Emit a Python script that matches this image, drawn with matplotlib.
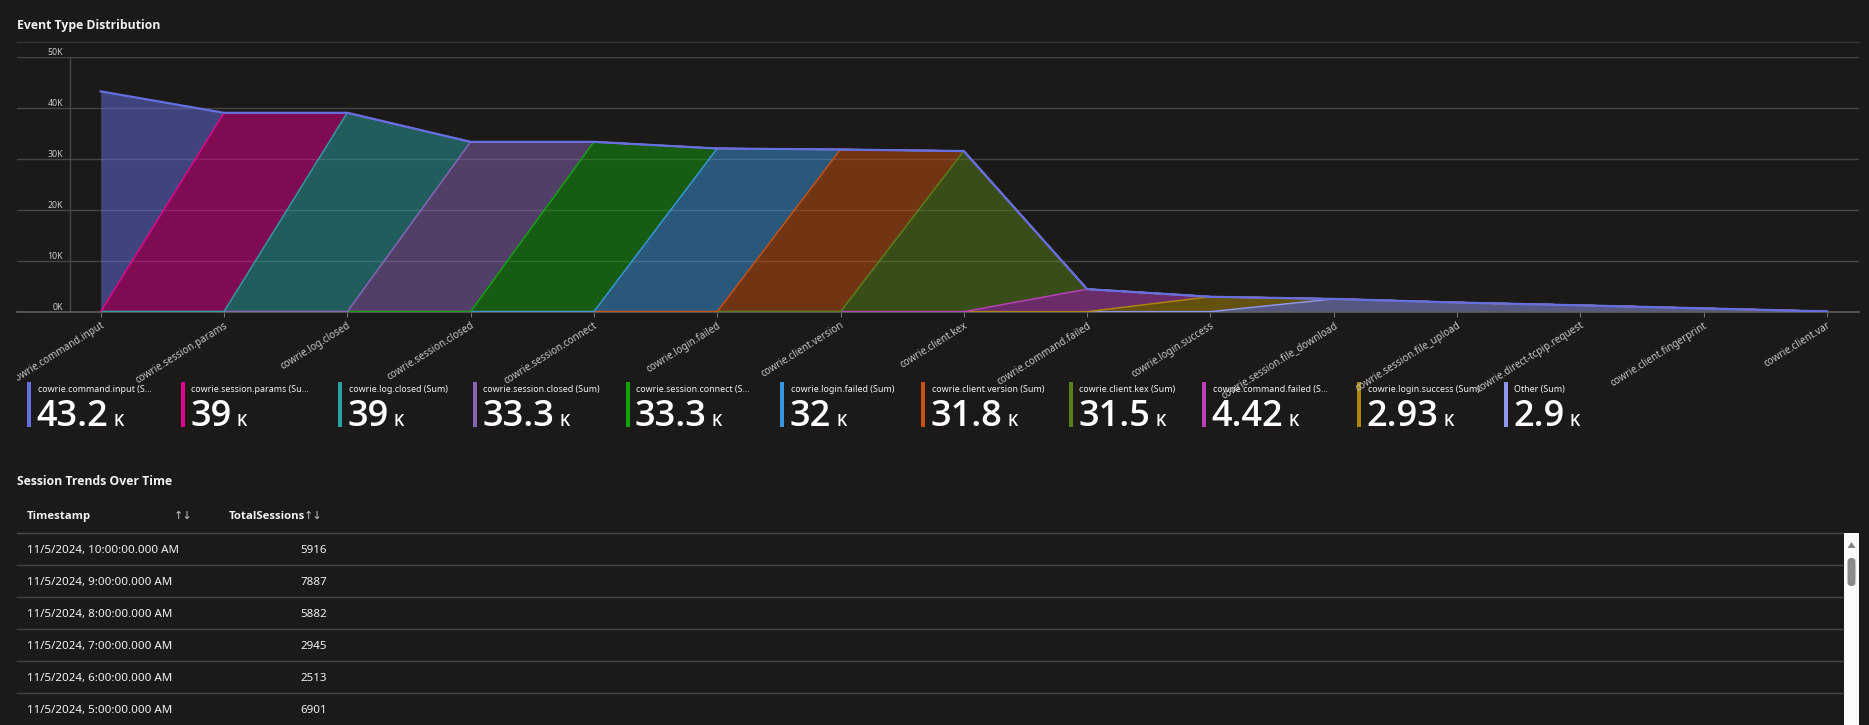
import numpy as np
import matplotlib
matplotlib.use("Agg")
import matplotlib.pyplot as plt
from matplotlib.patches import Rectangle, Polygon, FancyBboxPatch
from matplotlib.transforms import Bbox

# ---------------- data ----------------
categories = [
    "cowrie.command.input", "cowrie.session.params", "cowrie.log.closed",
    "cowrie.session.closed", "cowrie.session.connect", "cowrie.login.failed",
    "cowrie.client.version", "cowrie.client.kex", "cowrie.command.failed",
    "cowrie.login.success", "cowrie.session.file_download",
    "cowrie.session.file_upload", "cowrie.direct-tcpip.request",
    "cowrie.client.fingerprint", "cowrie.client.var",
]
series_names = [
    "cowrie.command.input", "cowrie.session.params", "cowrie.log.closed",
    "cowrie.session.closed", "cowrie.session.connect", "cowrie.login.failed",
    "cowrie.client.version", "cowrie.client.kex", "cowrie.command.failed",
    "cowrie.login.success", "Other",
]
series_colors = [
    "#6470e0", "#e3008c", "#2aa0a4", "#8764b8", "#13a10e", "#3a96dd",
    "#ca5010", "#57811a", "#bb40bb", "#ad8607", "#8e96ee",
]
# value of each named series at its own category
named_values = [43200, 39000, 39000, 33300, 33300, 32000, 31800, 31500, 4420, 2930]
# "Other" series values at file_download .. client.var
other_values = [2500, 1800, 1250, 650, 50]

legend_labels = [
    "cowrie.command.input (S\u2026", "cowrie.session.params (Su\u2026",
    "cowrie.log.closed (Sum)", "cowrie.session.closed (Sum)",
    "cowrie.session.connect (S\u2026", "cowrie.login.failed (Sum)",
    "cowrie.client.version (Sum)", "cowrie.client.kex (Sum)",
    "cowrie.command.failed (S\u2026", "cowrie.login.success (Sum)", "Other (Sum)",
]
legend_values = ["43.2", "39", "39", "33.3", "33.3", "32", "31.8", "31.5", "4.42", "2.93", "2.9"]
legend_unit = "K"

y_ticks = [0, 10000, 20000, 30000, 40000, 50000]
y_ticklabels = ["0K", "10K", "20K", "30K", "40K", "50K"]

table_columns = ["Timestamp", "TotalSessions"]
table_timestamps = [
    "11/5/2024, 10:00:00.000 AM", "11/5/2024, 9:00:00.000 AM",
    "11/5/2024, 8:00:00.000 AM", "11/5/2024, 7:00:00.000 AM",
    "11/5/2024, 6:00:00.000 AM", "11/5/2024, 5:00:00.000 AM",
]
table_sessions = [5916, 7887, 5882, 2945, 2513, 6901]

# ---------------- style ----------------
BG = "#1b1a19"
FG = "#f3f2f1"
SUB = "#c8c6c4"
GRID = "#474645"
FONT = ["Noto Sans", "DejaVu Sans"]
BOLD = ["Open Sans", "Liberation Sans", "DejaVu Sans"]
plt.rcParams["font.family"] = FONT

W, H = 1869, 725
fig = plt.figure(figsize=(W / 100, H / 100), dpi=100, facecolor=BG)

# overlay axes in pixel coordinates (for panel texts)
ov = fig.add_axes([0, 0, 1, 1])
ov.set_xlim(0, W)
ov.set_ylim(H, 0)
ov.axis("off")
ov.set_facecolor("none")

# ---------------- chart ----------------
x0_px, x1_px = 17, 1859
y_top_px, y_bot_px = 56.7, 311.7
ax = fig.add_axes([x0_px / W, 1 - y_bot_px / H, (x1_px - x0_px) / W, (y_bot_px - y_top_px) / H])
ax.set_facecolor("none")

first_px, step_px = 100.7, 123.3
ax.set_xlim((x0_px - first_px) / step_px, (x1_px - first_px) / step_px)
ax.set_ylim(0, 50000)

n = len(categories)
x = np.arange(n)
Y = np.zeros((len(series_names), n))
for i, v in enumerate(named_values):
    Y[i, i] = v
Y[len(series_names) - 1, 10:15] = other_values

cum = np.zeros(n)
for k in range(len(series_names) - 1, -1, -1):
    lower = cum
    upper = cum + Y[k]
    ax.fill_between(x, lower, upper, color=series_colors[k], alpha=0.5, lw=0, zorder=2)
    cum = upper
cum = np.zeros(n)
for k in range(len(series_names) - 1, -1, -1):
    upper = cum + Y[k]
    ax.plot(x, upper, color=series_colors[k], lw=1.6 if k == 0 else 1.1, zorder=3,
            solid_joinstyle="round")
    cum = upper

ax.set_yticks(y_ticks)
ax.set_yticklabels(y_ticklabels)
ax.yaxis.grid(True, color=GRID, lw=1)
ax.set_axisbelow(True)
ax.tick_params(axis="y", length=0, pad=-33.1, labelsize=6.4, labelcolor=SUB)
for lbl in ax.get_yticklabels():
    lbl.set_va("bottom")
ax.axvline((69.6 - first_px) / step_px, color=GRID, lw=1, zorder=1)

ax.set_xticks(x)
ax.set_xticklabels(categories, rotation=32, ha="right", rotation_mode="anchor")
ax.tick_params(axis="x", length=3.5, width=0.8, color="#6e6d6c", pad=2.5,
               labelsize=7.1, labelcolor=SUB)
clip = Bbox.from_extents(17, 0, W, H)
for lbl in ax.get_xticklabels():
    lbl.set_clip_box(clip)
    lbl.set_clip_on(True)

for s in ["top", "right", "left"]:
    ax.spines[s].set_visible(False)
ax.spines["bottom"].set_color("#5f5e5d")
ax.spines["bottom"].set_linewidth(1.2)

# ---------------- titles ----------------
ov.text(17, 25, "Event Type Distribution", fontsize=8.8, fontweight="bold",
        family=BOLD, color=FG, va="center", ha="left")
ov.plot([17, 1859], [42, 42], color="#393837", lw=1)

# ---------------- legend tiles ----------------
fig.canvas.draw()
renderer = fig.canvas.get_renderer()
tile_x = [28.6, 182.4, 339.7, 474.4, 627, 781.9, 922.5, 1070.3, 1203.8, 1358.8, 1505.4]
inv = ov.transData.inverted()
for i in range(len(series_names)):
    bx = tile_x[i]
    ov.add_patch(Rectangle((bx - 1.5, 381.7), 4, 45, color=series_colors[i], lw=0))
    ov.text(bx + 9, 391.7, legend_labels[i], fontsize=6.4, color=FG,
            va="baseline", ha="left")
    t = ov.text(bx + 8, 425.7, legend_values[i], fontsize=26, color="white",
                family=BOLD, fontweight="semibold", va="baseline", ha="left")
    ext = t.get_window_extent(renderer)
    right = inv.transform((ext.x1, ext.y0))[0]
    ov.text(right + 5, 425.7, legend_unit, fontsize=11.5, color="white",
            family=BOLD, fontweight="semibold", va="baseline", ha="left")

# ---------------- table ----------------
ov.text(17, 481.5, "Session Trends Over Time", fontsize=8.8, fontweight="bold",
        family=BOLD, color=FG, va="center", ha="left")
ov.text(27, 516.7, table_columns[0], fontsize=8.2, fontweight="bold", family=BOLD,
        color=FG, va="center", ha="left")
ov.text(174, 516.7, "\u2191\u2193", fontsize=8, color=SUB, va="center", ha="left")
t = ov.text(228.6, 516.7, table_columns[1], fontsize=8.2, fontweight="bold",
            family=BOLD, color=FG, va="center", ha="left")
ext = t.get_window_extent(renderer)
ov.text(inv.transform((ext.x1, ext.y0))[0] - 1, 516.7, "\u2191\u2193", fontsize=8,
        color=SUB, va="center", ha="left")

ov.plot([17, 1843], [533.3, 533.3], color="#4a4948", lw=1)
for r, (ts, val) in enumerate(zip(table_timestamps, table_sessions)):
    yc = 550.7 + 32 * r
    ov.text(27, yc, ts, fontsize=8.3, color=FG, va="center", ha="left")
    ov.text(327, yc, str(val), fontsize=8.3, color=FG, va="center", ha="right")
    if r < len(table_timestamps) - 1:
        ov.plot([17, 1843], [yc + 14.6, yc + 14.6], color="#444342", lw=1)

# scrollbar
ov.add_patch(Rectangle((1844, 533), 15, 192, color="#fbfbfb", lw=0))
ov.add_patch(Polygon([[1847.5, 548], [1855.5, 548], [1851.5, 542]], closed=True,
                     color="#858585", lw=0))
ov.add_patch(FancyBboxPatch((1847.5, 558), 8, 28, boxstyle="round,pad=0,rounding_size=4",
                            color="#8a8a8a", lw=0))

fig.savefig("out.png", dpi=100, facecolor=BG)
